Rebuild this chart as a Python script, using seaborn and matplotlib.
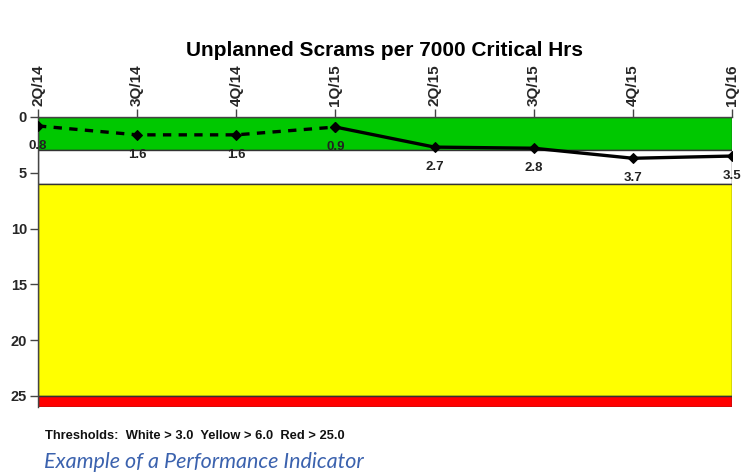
import numpy as np
import pandas as pd
import matplotlib
matplotlib.use("Agg")
import matplotlib.pyplot as plt
import seaborn as sns

# Data
quarters = ["2Q/14", "3Q/14", "4Q/14", "1Q/15", "2Q/15", "3Q/15", "4Q/15", "1Q/16"]
values = [0.8, 1.6, 1.6, 0.9, 2.7, 2.8, 3.7, 3.5]
band_edges = [0, 3, 6, 25, 26]
band_colors = ["#00c800", "#ffffff", "#ffff00", "#ff0000"]
y_ticks = [0, 5, 10, 15, 20, 25]

sns.set_style("white")
plt.rcParams['font.family'] = ['Liberation Sans', 'DejaVu Sans']

df = pd.DataFrame({"idx": np.arange(len(quarters)), "value": values})

fig = plt.figure(figsize=(7.47, 4.75), dpi=100)
ax = fig.add_axes([38 / 747, 1 - 407 / 475, (732 - 38) / 747, (407 - 117) / 475])

# threshold bands
for lo, hi, c in zip(band_edges[:-1], band_edges[1:], band_colors):
    ax.axhspan(lo, hi, facecolor=c, edgecolor="#333333", linewidth=1.0, zorder=0)

# dashed part (first 4 quarters), solid part after
sns.lineplot(data=df.iloc[:4], x="idx", y="value", ax=ax, color="black",
             linestyle=(0, (2.5, 2.2)), linewidth=2.4, marker="D", markersize=5,
             markeredgecolor="black", zorder=3)
sns.lineplot(data=df.iloc[3:], x="idx", y="value", ax=ax, color="black",
             linewidth=2.4, marker="D", markersize=5,
             markeredgecolor="black", zorder=3)

for i, v in enumerate(values):
    ax.annotate(f"{v:.1f}", (i, v), xytext=(0, -10), textcoords="offset points",
                ha="center", va="top", fontsize=9.5, fontweight="bold",
                color="#222222", zorder=4)

ax.set_xlim(0, len(quarters) - 1)
ax.set_ylim(26, 0)
ax.set_xticks(df["idx"])
ax.set_xticklabels(quarters, rotation=90, fontsize=11, fontweight="bold")
ax.xaxis.tick_top()
ax.set_yticks(y_ticks)
ax.set_yticklabels([str(t) for t in y_ticks], fontsize=10.5, fontweight="bold")
ax.tick_params(axis="both", direction="out", length=6, width=1, color="#444444",
               pad=2, left=True, top=True, bottom=False)
ax.set_xlabel("")
ax.set_ylabel("")
for s in ["right", "bottom"]:
    ax.spines[s].set_visible(False)
for s in ["left", "top"]:
    ax.spines[s].set_color("#444444")
    ax.spines[s].set_linewidth(1)

fig.text(385 / 747, 1 - 50 / 475, "Unplanned Scrams per 7000 Critical Hrs",
         ha="center", va="center", fontsize=15, fontweight="bold", color="black")
fig.text(45 / 747, 1 - 436 / 475, "Thresholds:  White > 3.0  Yellow > 6.0  Red > 25.0",
         ha="left", va="center", fontsize=9.3, fontweight="bold", color="#111111")
fig.text(44 / 747, 1 - 462 / 475, "Example of a Performance Indicator",
         ha="left", va="center", fontsize=15.5, style="italic", color="#3b62ae",
         family=["Lato", "DejaVu Sans"])

fig.savefig("out.png", dpi=100)
